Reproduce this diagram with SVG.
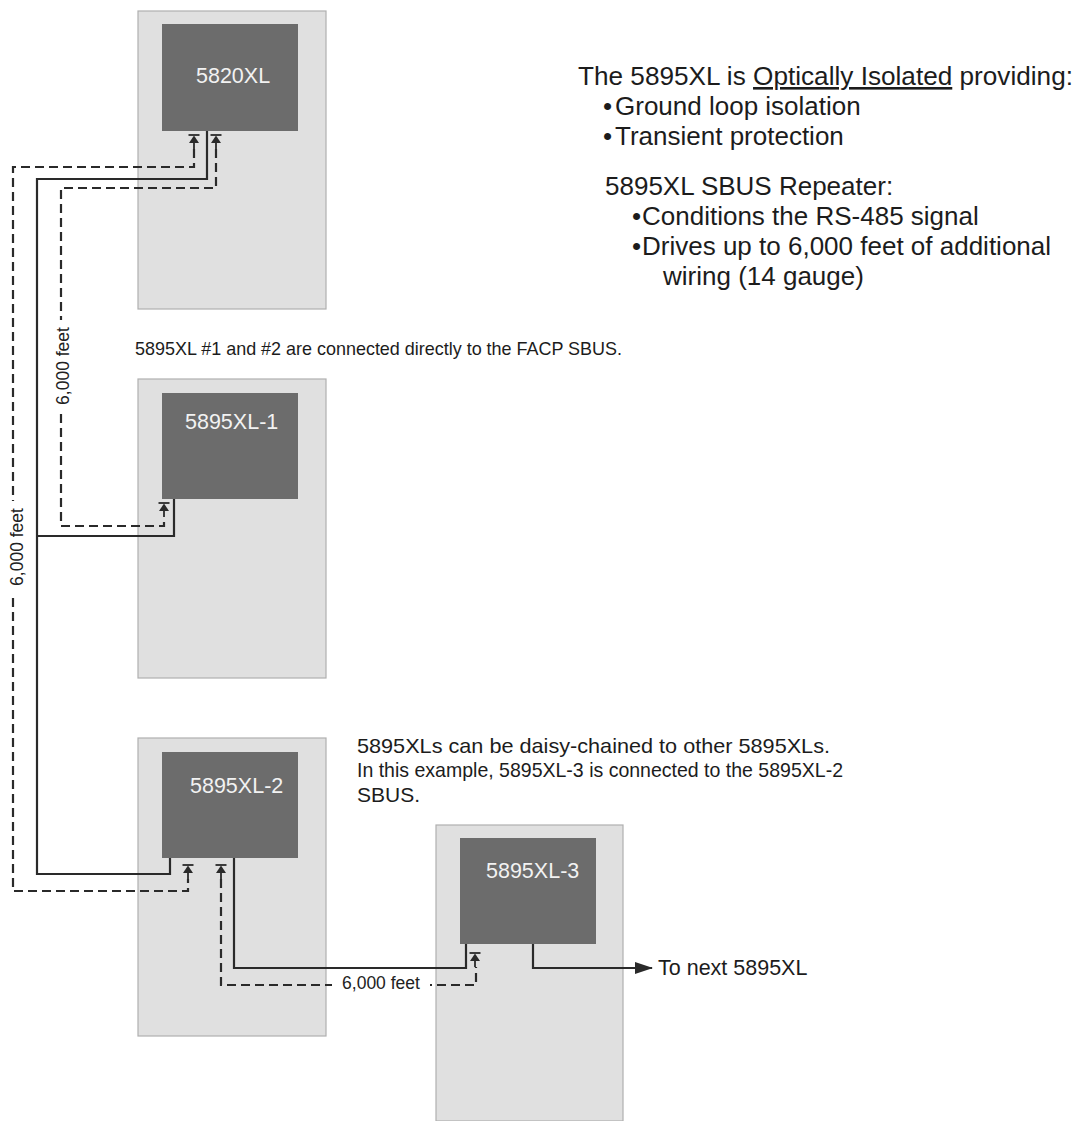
<svg xmlns="http://www.w3.org/2000/svg" width="1078" height="1121" viewBox="0 0 1078 1121">
<style>
.panel{fill:#e0e0e0;stroke:#b0b0b0;stroke-width:1.2}
.board{fill:#6c6c6c}
.lbl{font-family:"Liberation Sans",Arial,sans-serif;font-size:21.5px;fill:#f2f2f2}
.txt{font-family:"Liberation Sans",Arial,sans-serif;fill:#1c1c1c}
.w{fill:none;stroke:#2a2a2a;stroke-width:2.2}
.d{fill:none;stroke:#2a2a2a;stroke-width:2.2;stroke-dasharray:9,5}
.ft{font-family:"Liberation Sans",Arial,sans-serif;font-size:17.5px;fill:#222}
</style>
<defs>
<g id="diode">
<line x1="-5.5" y1="0" x2="5.5" y2="0" stroke="#2a2a2a" stroke-width="1.8"/>
<polygon points="0,0.5 -5,8 5,8" fill="#2a2a2a"/>
<line x1="0" y1="8" x2="0" y2="14" stroke="#2a2a2a" stroke-width="1.8"/>
</g>
<marker id="arr" viewBox="0 0 18 12" refX="17" refY="6" markerWidth="18" markerHeight="12" markerUnits="userSpaceOnUse" orient="auto">
<path d="M0,0 L18,6 L0,12 z" fill="#2a2a2a"/>
</marker>
</defs>

<g id="node-5820XL">
<rect class="panel" x="138" y="11" width="188" height="298"/>
<rect class="board" x="162" y="24" width="136" height="107"/>
<text class="lbl" x="196" y="83">5820XL</text>
</g>
<g id="node-5895XL-1">
<rect class="panel" x="138" y="379" width="188" height="299"/>
<rect class="board" x="162" y="393" width="136" height="106"/>
<text class="lbl" x="185" y="429">5895XL-1</text>
</g>
<g id="node-5895XL-2">
<rect class="panel" x="138" y="738" width="188" height="298"/>
<rect class="board" x="162" y="752" width="136" height="106"/>
<text class="lbl" x="190" y="793">5895XL-2</text>
</g>
<g id="node-5895XL-3">
<rect class="panel" x="436" y="825" width="187" height="296"/>
<rect class="board" x="460" y="838" width="136" height="106"/>
<text class="lbl" x="486" y="878">5895XL-3</text>
</g>

<g id="connectors">
<path class="d" d="M194,149 V167 H13 V891 H188 V879"/>
<path class="d" d="M216,149 V188 H61 V526 H164 V517"/>
<path class="d" d="M221,879 V985 H476 V967"/>
<path class="w" d="M207,131 V179 H37 V874 H170 V858"/>
<path class="w" d="M37,536 H174 V499"/>
<path class="w" d="M234,858 V968 H466 V944"/>
<path class="w" d="M533,944 V968 H652" marker-end="url(#arr)"/>
<use href="#diode" x="194" y="135"/>
<use href="#diode" x="216" y="135"/>
<use href="#diode" x="164" y="503"/>
<use href="#diode" x="188" y="865"/>
<use href="#diode" x="221" y="865"/>
<use href="#diode" x="475" y="953"/>
<rect x="52" y="320" width="22" height="92" fill="#fff"/>
<rect x="4" y="501" width="24" height="93" fill="#fff"/>
<rect x="332" y="973" width="98" height="22" fill="#fff"/>
<text class="ft" transform="translate(69,366) rotate(-90)" text-anchor="middle">6,000 feet</text>
<text class="ft" transform="translate(23,547) rotate(-90)" text-anchor="middle">6,000 feet</text>
<text class="ft" x="381" y="989" text-anchor="middle">6,000 feet</text>
</g>

<g id="notes" class="txt">
<text x="578" y="85" font-size="26" textLength="495" lengthAdjust="spacingAndGlyphs">The 5895XL is <tspan style="text-decoration:underline">Optically Isolated</tspan> providing:</text>
<text x="603" y="115" font-size="26">•</text>
<text x="615" y="115" font-size="26">Ground loop isolation</text>
<text x="603" y="145" font-size="26">•</text>
<text x="615" y="145" font-size="26">Transient protection</text>
<text x="605" y="195" font-size="26">5895XL SBUS Repeater:</text>
<text x="632" y="225" font-size="26">•</text>
<text x="642" y="225" font-size="26">Conditions the RS-485 signal</text>
<text x="632" y="255" font-size="26">•</text>
<text x="642" y="255" font-size="26">Drives up to 6,000 feet of additional</text>
<text x="663" y="285" font-size="26">wiring (14 gauge)</text>
<text x="135" y="355" font-size="18.5" textLength="487" lengthAdjust="spacingAndGlyphs">5895XL #1 and #2 are connected directly to the FACP SBUS.</text>
<text x="357" y="753" font-size="21" textLength="473" lengthAdjust="spacingAndGlyphs">5895XLs can be daisy-chained to other 5895XLs.</text>
<text x="357" y="777" font-size="21" textLength="486" lengthAdjust="spacingAndGlyphs">In this example, 5895XL-3 is connected to the 5895XL-2</text>
<text x="357" y="802" font-size="21">SBUS.</text>
<text x="658" y="975" font-size="21.5">To next 5895XL</text>
</g>
</svg>
